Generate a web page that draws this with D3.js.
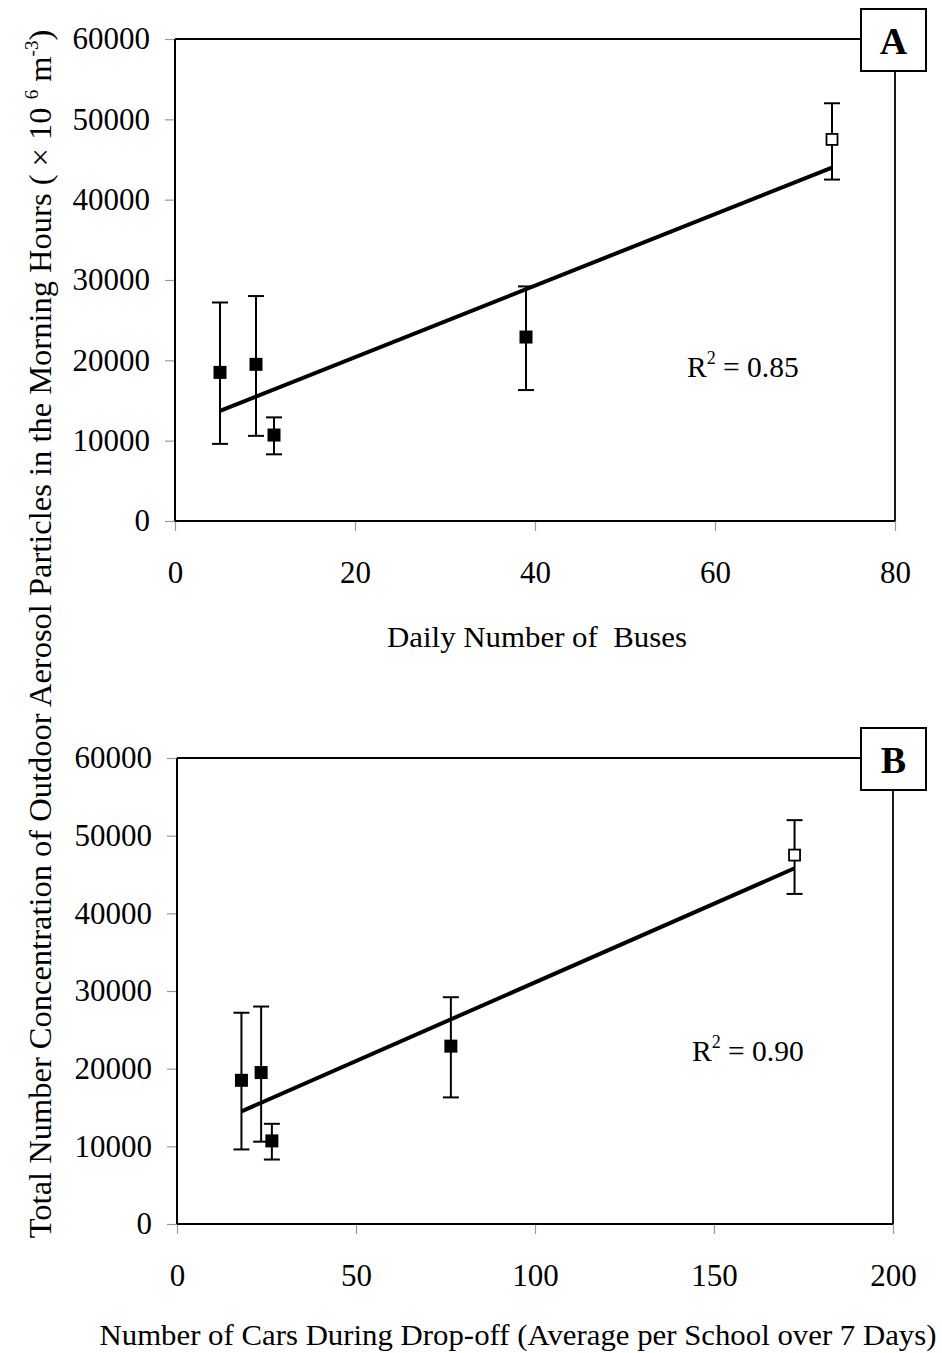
<!DOCTYPE html>
<html>
<head>
<meta charset="utf-8">
<script src="https://cdn.jsdelivr.net/npm/d3@7"></script>
<style>
  body { margin: 0; background: #fff; }
  svg { display: block; font-family: "Liberation Serif", "Times New Roman", serif; }
</style>
</head>
<body>
<div id="chart"></div>
<script>
// same five schools in both panels
const concentration = [18500, 19500, 10700, 22900, 47500];
const errUpper = [27200, 28000, 12900, 29200, 52000];
const errLower = [9600, 10600, 8300, 16300, 42500];
const openMarker = [false, false, false, false, true];

const busesPerDay = [5, 9, 11, 39, 73];
const carsDropoff = [18, 23.5, 26.5, 76.5, 172.5];

// fitted lines (start / end points)
const busTrend = [[5, 13700], [73, 44000]];
const carTrend = [[18, 14500], [172.5, 45800]];

const yTicks = [0, 10000, 20000, 30000, 40000, 50000, 60000];
const busTicks = [0, 20, 40, 60, 80];
const carTicks = [0, 50, 100, 150, 200];

const width = 942, height = 1353;

const svg = d3.select("#chart")
  .append("svg")
  .attr("width", width)
  .attr("height", height);

function drawPanel(cfg) {
  const xScale = d3.scaleLinear().domain(cfg.xDomain).range([cfg.left, cfg.right]);
  const yScale = d3.scaleLinear().domain([0, 60000]).range([cfg.bottom, cfg.top]);

  const g = svg.append("g").attr("class", "panel");

  // y axis
  const yAxis = d3.axisLeft(yScale).tickValues(yTicks).tickSize(10).tickPadding(15).tickFormat(d3.format("d"));
  const yG = g.append("g")
    .attr("transform", `translate(${cfg.left},0)`)
    .call(yAxis);
  yG.select(".domain").remove();
  yG.selectAll(".tick line").attr("stroke", "#999").attr("stroke-width", 1.2);
  yG.selectAll(".tick text")
    .attr("font-size", 31)
    .attr("fill", "#000")
    .attr("font-family", "Liberation Serif");

  // x axis
  const xAxis = d3.axisBottom(xScale).tickValues(cfg.xTicks).tickSize(10).tickPadding(30);
  const xG = g.append("g")
    .attr("transform", `translate(0,${cfg.bottom})`)
    .call(xAxis);
  xG.select(".domain").remove();
  xG.selectAll(".tick line").attr("stroke", "#999").attr("stroke-width", 1.2);
  xG.selectAll(".tick text")
    .attr("font-size", 31)
    .attr("fill", "#000")
    .attr("font-family", "Liberation Serif");

  // frame
  g.append("line")
    .attr("x1", cfg.left).attr("x2", cfg.left)
    .attr("y1", cfg.top).attr("y2", cfg.bottom)
    .attr("stroke", "#000").attr("stroke-width", 2);
  g.append("line")
    .attr("x1", cfg.left).attr("x2", cfg.right)
    .attr("y1", cfg.bottom).attr("y2", cfg.bottom)
    .attr("stroke", "#000").attr("stroke-width", 2);
  g.append("line")
    .attr("x1", cfg.left).attr("x2", cfg.right)
    .attr("y1", cfg.top).attr("y2", cfg.top)
    .attr("stroke", "#000").attr("stroke-width", 2);
  g.append("line")
    .attr("x1", cfg.right).attr("x2", cfg.right)
    .attr("y1", cfg.top).attr("y2", cfg.bottom)
    .attr("stroke", "#000").attr("stroke-width", 1.8);

  // trend line
  const line = d3.line()
    .x(d => xScale(d[0]))
    .y(d => yScale(d[1]));
  g.append("path")
    .datum(cfg.trend)
    .attr("d", line)
    .attr("fill", "none")
    .attr("stroke", "#000")
    .attr("stroke-width", 4);

  const pts = cfg.xValues.map((x, i) => ({
    x: x, y: concentration[i], hi: errUpper[i], lo: errLower[i], open: openMarker[i]
  }));

  // error bars
  const eb = g.append("g").attr("class", "error-bars")
    .attr("stroke", "#000").attr("stroke-width", 2);
  pts.forEach(d => {
    const cx = xScale(d.x);
    eb.append("line")
      .attr("x1", cx).attr("x2", cx)
      .attr("y1", yScale(d.hi)).attr("y2", yScale(d.lo));
    [d.hi, d.lo].forEach(v => {
      eb.append("line")
        .attr("x1", cx - 8).attr("x2", cx + 8)
        .attr("y1", yScale(v)).attr("y2", yScale(v));
    });
  });

  // markers
  g.selectAll(".marker")
    .data(pts)
    .enter().append("rect")
    .attr("class", "marker")
    .attr("x", d => xScale(d.x) - (d.open ? 5.5 : 6.5))
    .attr("y", d => yScale(d.y) - (d.open ? 5.5 : 6.5))
    .attr("width", d => d.open ? 11 : 13)
    .attr("height", d => d.open ? 11 : 13)
    .attr("fill", d => d.open ? "#fff" : "#000")
    .attr("stroke", "#000")
    .attr("stroke-width", d => d.open ? 1.8 : 0);

  // R squared
  const r2 = g.append("text")
    .attr("x", cfg.r2x)
    .attr("y", cfg.r2y)
    .attr("font-size", 29.5);
  r2.append("tspan").text("R");
  r2.append("tspan").attr("font-size", 18).attr("dy", -13).text("2");
  r2.append("tspan").attr("dy", 13).text(" = " + cfg.r2);

  // panel letter box
  g.append("rect")
    .attr("x", 861).attr("y", cfg.boxTop)
    .attr("width", 65).attr("height", 62)
    .attr("fill", "#fff")
    .attr("stroke", "#000")
    .attr("stroke-width", 2);
  g.append("text")
    .attr("x", 893.5)
    .attr("y", cfg.boxTop + 45)
    .attr("text-anchor", "middle")
    .attr("font-size", 38)
    .attr("font-weight", "bold")
    .text(cfg.letter);

  // x label
  g.append("text")
    .attr("x", cfg.xLabelX)
    .attr("y", cfg.xLabelY)
    .attr("text-anchor", "middle")
    .attr("font-size", 29)
    .attr("textLength", cfg.xLabelLen)
    .attr("lengthAdjust", "spacingAndGlyphs")
    .style("white-space", "pre")
    .text(cfg.xLabel);
}

drawPanel({
  left: 175, right: 895, top: 39, bottom: 521,
  xDomain: [0, 80], xTicks: busTicks, xValues: busesPerDay,
  trend: busTrend, r2: "0.85", r2x: 687, r2y: 377,
  boxTop: 9, letter: "A",
  xLabel: "Daily Number of  Buses", xLabelX: 537, xLabelY: 647, xLabelLen: 300
});

drawPanel({
  left: 177, right: 893, top: 758, bottom: 1224,
  xDomain: [0, 200], xTicks: carTicks, xValues: carsDropoff,
  trend: carTrend, r2: "0.90", r2x: 692, r2y: 1061,
  boxTop: 728, letter: "B",
  xLabel: "Number of Cars During Drop-off (Average per School over 7 Days)",
  xLabelX: 518, xLabelY: 1345, xLabelLen: 837
});

// shared y label
const yLab = svg.append("text")
  .attr("transform", "translate(51,634) rotate(-90)")
  .attr("text-anchor", "middle")
  .attr("font-size", 32.5);
yLab.append("tspan").text("Total Number Concentration of Outdoor Aerosol Particles in the Morning Hours ( \u00d7 10 ");
yLab.append("tspan").attr("font-size", 19).attr("dy", -13).text("6");
yLab.append("tspan").attr("dy", 13).text(" m");
yLab.append("tspan").attr("font-size", 19).attr("dy", -13).text("-3");
yLab.append("tspan").attr("dy", 13).text(")");
</script>
</body>
</html>
